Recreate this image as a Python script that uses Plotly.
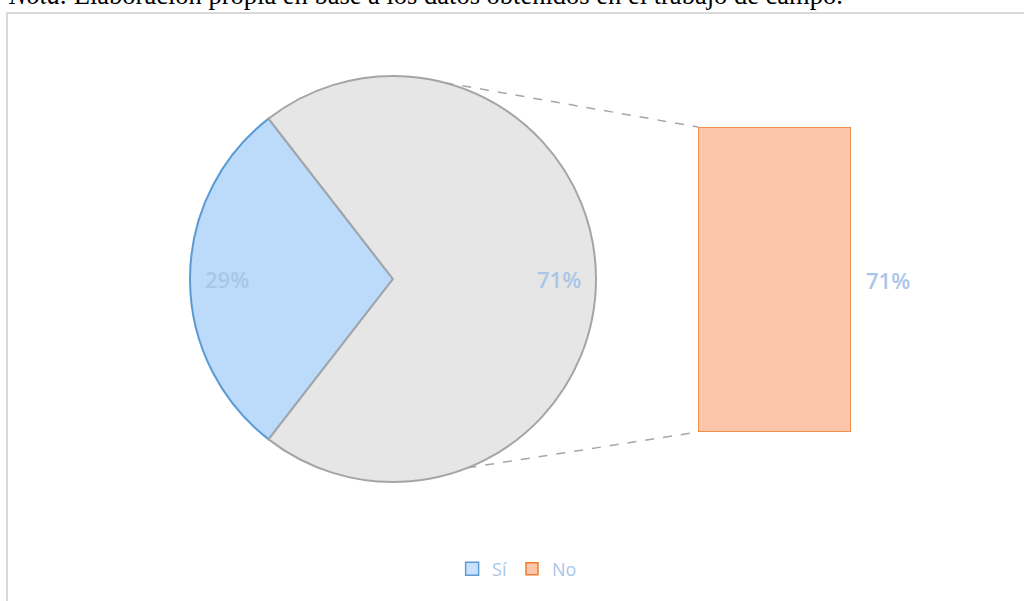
import math
import plotly.graph_objects as go

# ---- data ----
categories = ["Sí", "No"]
values = [29, 71]
pie_labels = ["29%", "71%"]
bar_label = "71%"
note_text = "<i>Nota.</i> Elaboración propia en base a los datos obtenidos en el trabajo de campo."

# ---- layout constants ----
W, H = 1024, 601
pie_cx, pie_cy, pie_r = 393, 279, 203          # px
bar_x0, bar_x1, bar_top, bar_bot = 698, 851, 127, 432  # px

def px(x):
    return x / W

def py(y):
    return 1 - y / H

total = sum(values)
blue_span = 360 * values[0] / total
rotation = -90 - blue_span / 2  # blue slice centered at 9 o'clock

fig = go.Figure()

fig.add_trace(go.Pie(
    labels=categories, values=values, sort=False, direction="counterclockwise",
    rotation=rotation, textinfo="none", hoverinfo="skip", showlegend=False,
    marker=dict(colors=["#bcdaf9", "#e6e6e6"],
                line=dict(color=["#5b9bd5", "#a5a5a5"], width=2)),
    domain=dict(x=[px(pie_cx - pie_r), px(pie_cx + pie_r)],
                y=[py(pie_cy + pie_r), py(pie_cy - pie_r)]),
))

# legend entry for Sí
fig.add_trace(go.Scatter(
    x=[None], y=[None], mode="markers", name=categories[0],
    marker=dict(symbol="square", size=13, color="#c9e1fa",
                line=dict(color="#5b9bd5", width=1.5)),
    xaxis="x", yaxis="y", hoverinfo="skip",
))

fig.add_trace(go.Bar(
    x=[0], y=[values[1]], width=1, name=categories[1],
    marker=dict(color="#fcc6aa", line=dict(color="#ed7d31", width=1.5)),
    hoverinfo="skip", xaxis="x", yaxis="y",
))

fig.update_layout(
    width=W, height=H, margin=dict(l=0, r=0, t=0, b=0),
    paper_bgcolor="white", plot_bgcolor="rgba(0,0,0,0)",
    xaxis=dict(domain=[px(bar_x0), px(bar_x1)], range=[-0.5, 0.5], visible=False, fixedrange=True),
    yaxis=dict(domain=[py(bar_bot), py(bar_top)], range=[0, values[1]], visible=False, fixedrange=True),
    showlegend=True,
    legend=dict(orientation="h", x=0.505, xanchor="center", y=py(569), yanchor="middle",
                font=dict(family="Open Sans, Liberation Sans", size=18, color="#a9c6e8"),
                itemwidth=30, bgcolor="rgba(0,0,0,0)"),
)

# pie labels
label_font = dict(family="Open Sans, Liberation Sans", size=22, color="#a9c6e8", weight=600)
start = 180 - blue_span / 2  # math angle of blue start (counterclockwise)
cum = 0
for v, t in zip(values, pie_labels):
    span = 360 * v / total
    mid = math.radians(start + cum + span / 2)
    lx = pie_cx + 0.82 * pie_r * math.cos(mid)
    ly = pie_cy - 0.82 * pie_r * math.sin(mid)
    fig.add_annotation(x=px(lx), y=py(ly), xref="paper", yref="paper", text=t,
                       showarrow=False, font=label_font, xanchor="center", yanchor="middle")
    cum += span

# bar label
fig.add_annotation(x=px(864), y=values[1] / 2, xref="paper", yref="y", text=bar_label,
                   showarrow=False, font=label_font, xanchor="left", yanchor="middle")

# connector lines from pie edge to bar corners
top_ang = math.radians(14.7)     # clockwise from 12 o'clock
bot_ang = math.radians(158.5)
tx = pie_cx + pie_r * math.sin(top_ang)
ty = pie_cy - pie_r * math.cos(top_ang)
bx = pie_cx + pie_r * math.sin(bot_ang)
by = pie_cy - pie_r * math.cos(bot_ang)
dash_line = dict(color="#a6a6a6", width=1.5, dash="dash")
fig.add_shape(type="line", xref="paper", yref="paper", x0=px(tx), y0=py(ty),
              x1=px(bar_x0), y1=py(bar_top), line=dash_line, layer="below")
fig.add_shape(type="line", xref="paper", yref="paper", x0=px(bx), y0=py(by),
              x1=px(bar_x0), y1=py(bar_bot), line=dash_line, layer="below")

# chart frame
fig.add_shape(type="rect", xref="paper", yref="paper", x0=px(7), y0=-0.05, x1=1.05, y1=py(13),
              line=dict(color="#d9d9d9", width=2), fillcolor="rgba(0,0,0,0)", layer="below")

# note text (partially cut at top, as in the source)
fig.add_annotation(x=px(6), y=py(-5), xref="paper", yref="paper", text=note_text,
                   showarrow=False, xanchor="left", yanchor="middle",
                   font=dict(family="Liberation Serif, Times New Roman", size=26.5, color="black"))

fig.write_html("out.html", config={"displayModeBar": False},
               post_script="document.body.style.margin='0';document.body.style.overflow='hidden';")
